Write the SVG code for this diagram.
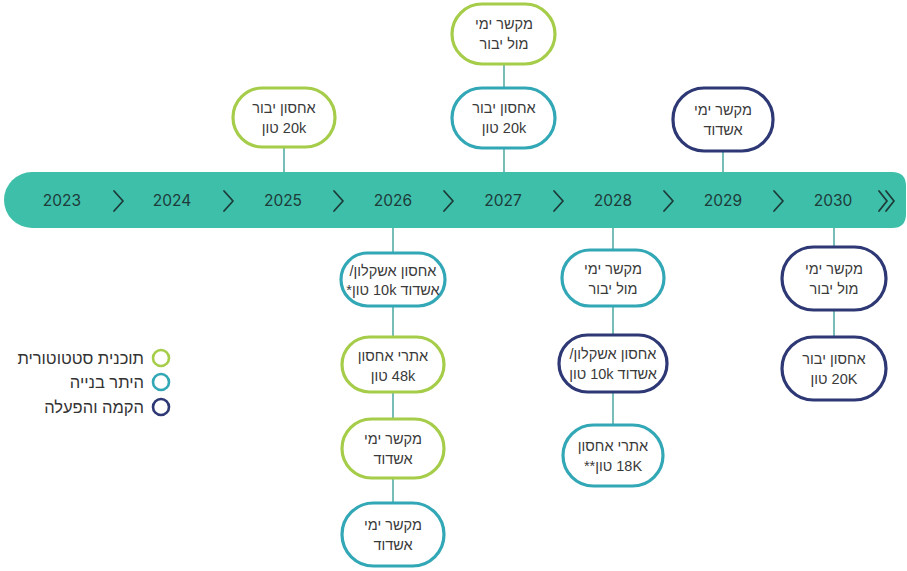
<svg xmlns="http://www.w3.org/2000/svg" width="907" height="571" viewBox="0 0 907 571">
<style>
.n rect{fill:#fff;stroke-width:3.2}
.g rect{stroke:#a6cd4a}
.t rect{stroke:#32a7b6}
.v rect{stroke:#2d3875}
.n text{font-family:"Liberation Sans","DejaVu Sans",sans-serif;font-size:14.5px;fill:#3a3a3a;text-anchor:middle}
.yr{font-family:Inter,"Open Sans",sans-serif;font-size:15.5px;font-weight:400;fill:#1d3b39;text-anchor:middle}
.ch{fill:none;stroke:#1d3b39;stroke-width:1.8;stroke-linecap:round;stroke-linejoin:round}
#connectors line{stroke:#55aca6;stroke-width:1.6}
.lg text{font-family:"Liberation Sans","DejaVu Sans",sans-serif;font-size:16.5px;fill:#333;text-anchor:end}
.lg circle{fill:none;stroke-width:2.6}
</style>
<rect width="907" height="571" fill="#fff"/>
<g id="connectors">
<line x1="284" y1="147" x2="284" y2="173"/>
<line x1="504" y1="64" x2="504" y2="88"/>
<line x1="504" y1="148" x2="504" y2="173"/>
<line x1="723" y1="151" x2="723" y2="173"/>
<line x1="393" y1="227" x2="393" y2="253"/>
<line x1="393" y1="306" x2="393" y2="337"/>
<line x1="393" y1="392" x2="393" y2="419"/>
<line x1="393" y1="478" x2="393" y2="503"/>
<line x1="613" y1="227" x2="613" y2="250"/>
<line x1="613" y1="306" x2="613" y2="335"/>
<line x1="613" y1="392" x2="613" y2="425"/>
<line x1="834" y1="227" x2="834" y2="247"/>
<line x1="834" y1="310" x2="834" y2="337"/>
</g>
<g id="timeline">
<path d="M32 172 H892 Q906 172 906 186 V214 Q906 228 892 228 H32 A28 28 0 0 1 32 172 Z" fill="#3ebfa9"/>
<text class="yr" x="62" y="206">2023</text>
<text class="yr" x="172" y="206">2024</text>
<text class="yr" x="283" y="206">2025</text>
<text class="yr" x="393" y="206">2026</text>
<text class="yr" x="503" y="206">2027</text>
<text class="yr" x="613" y="206">2028</text>
<text class="yr" x="723" y="206">2029</text>
<text class="yr" x="833" y="206">2030</text>
<polyline class="ch" points="114,191 123,201 114,211"/>
<polyline class="ch" points="224,191 233,201 224,211"/>
<polyline class="ch" points="334,191 343,201 334,211"/>
<polyline class="ch" points="444,191 453,201 444,211"/>
<polyline class="ch" points="554,191 563,201 554,211"/>
<polyline class="ch" points="664,191 673,201 664,211"/>
<polyline class="ch" points="774,191 783,201 774,211"/>
<polyline class="ch" points="879,191 887,201 879,211"/>
<polyline class="ch" points="886,191 894,201 886,211"/>
</g>
<g id="n2025" class="n g"><rect x="233" y="88" width="102" height="59" rx="29.5"/><text x="284" y="113" direction="rtl">אחסון יבור</text><text x="284" y="133" direction="rtl">20k טון</text></g>
<g id="n2027a" class="n g"><rect x="452" y="4" width="103" height="60" rx="30"/><text x="504" y="29" direction="rtl">מקשר ימי</text><text x="504" y="49" direction="rtl">מול יבור</text></g>
<g id="n2027b" class="n t"><rect x="452" y="88" width="103" height="60" rx="30"/><text x="504" y="113" direction="rtl">אחסון יבור</text><text x="504" y="133" direction="rtl">20k טון</text></g>
<g id="n2029" class="n v"><rect x="673" y="88" width="100" height="63" rx="31"/><text x="723" y="115" direction="rtl">מקשר ימי</text><text x="723" y="135" direction="rtl">אשדוד</text></g>
<g id="n2026a" class="n t"><rect x="341" y="253" width="104" height="53" rx="26.5"/><text x="393" y="276" direction="rtl">אחסון אשקלון/</text><text x="393" y="295" direction="rtl">אשדוד 10k טון*</text></g>
<g id="n2026b" class="n g"><rect x="342" y="337" width="102" height="55" rx="27.5"/><text x="393" y="361" direction="rtl">אתרי אחסון</text><text x="393" y="381" direction="rtl">48k טון</text></g>
<g id="n2026c" class="n g"><rect x="342" y="419" width="102" height="59" rx="29.5"/><text x="393" y="444" direction="rtl">מקשר ימי</text><text x="393" y="464" direction="rtl">אשדוד</text></g>
<g id="n2026d" class="n t"><rect x="342" y="503" width="102" height="63" rx="31.5"/><text x="393" y="530" direction="rtl">מקשר ימי</text><text x="393" y="550" direction="rtl">אשדוד</text></g>
<g id="n2028a" class="n t"><rect x="562" y="250" width="102" height="56" rx="28"/><text x="613" y="274" direction="rtl">מקשר ימי</text><text x="613" y="294" direction="rtl">מול יבור</text></g>
<g id="n2028b" class="n v"><rect x="559" y="335" width="108" height="57" rx="28.5"/><text x="613" y="359" direction="rtl">אחסון אשקלון/</text><text x="613" y="379" direction="rtl">אשדוד 10k טון</text></g>
<g id="n2028c" class="n t"><rect x="563" y="425" width="100" height="61" rx="30.5"/><text x="613" y="451" direction="rtl">אתרי אחסון</text><text x="613" y="471" direction="rtl">18K טון**</text></g>
<g id="n2030a" class="n v"><rect x="782" y="247" width="104" height="63" rx="31.5"/><text x="834" y="274" direction="rtl">מקשר ימי</text><text x="834" y="294" direction="rtl">מול יבור</text></g>
<g id="n2030b" class="n v"><rect x="782" y="337" width="104" height="63" rx="31.5"/><text x="834" y="364" direction="rtl">אחסון יבור</text><text x="834" y="384" direction="rtl">20K טון</text></g>
<g id="legend" class="lg">
<circle cx="161" cy="358" r="8" stroke="#a6cd4a"/><text x="144" y="364">תוכנית סטטוטורית</text>
<circle cx="161" cy="382" r="8" stroke="#32a7b6"/><text x="144" y="388">היתר בנייה</text>
<circle cx="161" cy="407" r="8" stroke="#2d3875"/><text x="144" y="413">הקמה והפעלה</text>
</g>
</svg>
